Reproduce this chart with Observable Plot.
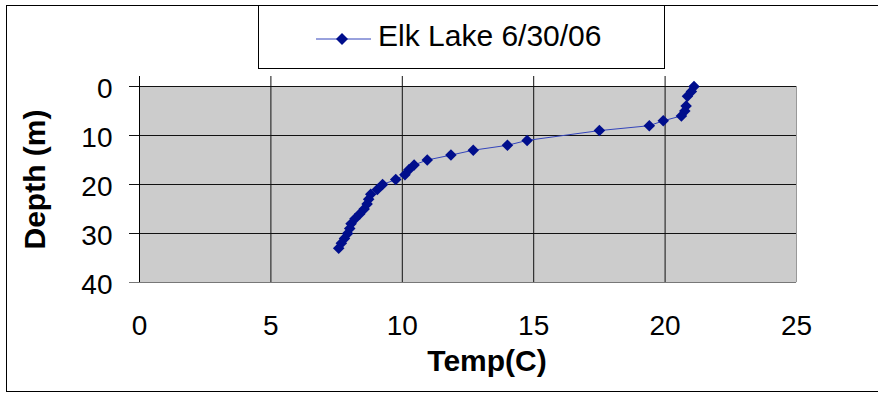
<!DOCTYPE html>
<html>
<head>
<meta charset="utf-8">
<script src="https://cdn.jsdelivr.net/npm/d3@7"></script>
<script src="https://cdn.jsdelivr.net/npm/@observablehq/plot@0.6"></script>
<style>
  html, body { margin: 0; padding: 0; background: #fff; }
  #wrap { position: relative; width: 878px; height: 396px; overflow: hidden; font-family: "Liberation Sans", Arial, sans-serif; }
  #chart { position: absolute; left: 0; top: 0; }
  #border { position: absolute; left: 6px; top: 5px; width: 880px; height: 387px; border: 1px solid #000; box-sizing: border-box; pointer-events: none; }
  #legend { position: absolute; left: 258px; top: 5px; width: 407px; height: 64px; border: 1px solid #000; box-sizing: border-box; background: #fff; }
  #legend svg { position: absolute; left: 0; top: 0; }
  #legend span { position: absolute; left: 119px; top: 13px; font-size: 30px; line-height: 34px; color: #000; white-space: nowrap; }
</style>
</head>
<body>
<div id="wrap">
  <div id="chart"></div>
  <div id="border"></div>
  <div id="legend">
    <svg width="120" height="62">
      <line x1="57" y1="33" x2="112" y2="33" stroke="#3344bb" stroke-width="1"></line>
      <path d="M83,27 L89,33 L83,39 L77,33 Z" fill="#000e8c"></path>
    </svg>
    <span id="legendText"></span>
  </div>
</div>
<script>
const seriesName = "Elk Lake 6/30/06";
const depths = [0, 1, 2, 4, 5, 6, 7, 8, 9, 11, 12, 13, 14, 15, 16, 17, 18, 19, 20, 21, 22, 23, 24, 25, 26, 27, 28, 29, 30, 31, 32, 33];
const temps  = [21.1, 21.0, 20.85, 20.8, 20.75, 20.62, 19.93, 19.4, 17.5, 14.75, 14.0, 12.7, 11.85, 10.95, 10.45, 10.25, 10.1, 9.75, 9.25, 9.05, 8.8, 8.72, 8.66, 8.55, 8.38, 8.2, 8.05, 8.0, 7.92, 7.8, 7.68, 7.58];
const xTicks = [0, 5, 10, 15, 20, 25];
const yTicks = [0, 10, 20, 30, 40];
const xLabel = "Temp(C)";
const yLabel = "Depth (m)";

const data = depths.map((d, i) => ({depth: d, temp: temps[i]}));
document.getElementById("legendText").textContent = seriesName;

const chart = Plot.plot({
  width: 878,
  height: 396,
  marginLeft: 139,
  marginRight: 82,
  marginTop: 86,
  marginBottom: 114,
  style: {background: "transparent", fontFamily: "Liberation Sans, Arial, sans-serif", color: "#000"},
  x: {domain: [0, 25]},
  y: {domain: [0, 40], reverse: true},
  marks: [
    Plot.frame({fill: "#cccccc", stroke: null}),
    Plot.ruleY(yTicks.slice(0, 4), {y: d => d, stroke: "#111", insetLeft: -10}),
    Plot.ruleY([40], {y: d => d, stroke: "#777", insetLeft: -10}),
    Plot.ruleX(xTicks.slice(1, 5), {x: d => d, stroke: "#111", insetTop: -10}),
    Plot.ruleX([25], {x: d => d, stroke: "#999", insetTop: 0}),
    Plot.ruleX([0], {x: d => d, stroke: "#000", insetTop: -10}),
    Plot.axisX(xTicks, {anchor: "bottom", tickSize: 0, tickPadding: 33, fontSize: 28, label: null}),
    Plot.axisY(yTicks, {anchor: "left", tickSize: 0, tickPadding: 27, fontSize: 28, label: null, dy: 3}),
    Plot.text([xLabel], {frameAnchor: "bottom", dx: 19, dy: 79, fontSize: 30, fontWeight: "bold", lineAnchor: "middle"}),
    Plot.text([yLabel], {frameAnchor: "left", textAnchor: "middle", dx: -104, dy: -5, rotate: -90, fontSize: 30, fontWeight: "bold", lineAnchor: "middle"}),
    Plot.line(data, {x: "temp", y: "depth", stroke: "#3344bb", strokeWidth: 1}),
    Plot.dot(data, {x: "temp", y: "depth", symbol: "diamond2", r: 5.2, fill: "#000e8c", stroke: null})
  ]
});
document.getElementById("chart").appendChild(chart);
</script>
</body>
</html>
